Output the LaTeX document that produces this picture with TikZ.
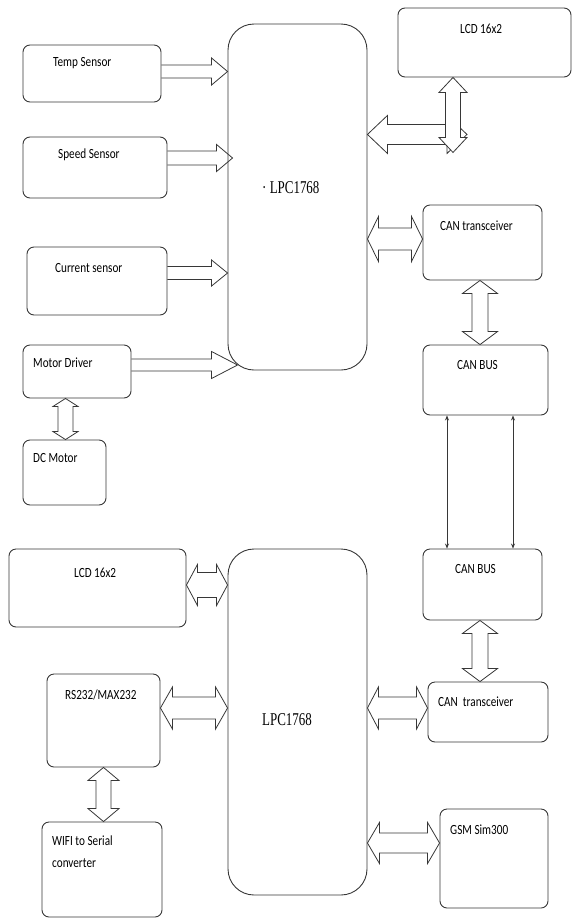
\documentclass[tikz,border=0pt]{standalone}
\usepackage{fontspec}
\setmainfont{Carlito}
\newfontfamily\boxfont[FakeStretch=0.8]{Carlito}
\newfontfamily\chipfont[FakeStretch=0.72]{Liberation Serif}
\usepackage{tikz}
\usetikzlibrary{calc,arrows.meta}
\definecolor{lineGray}{RGB}{55,55,55}

\tikzset{
  box/.style={draw=lineGray, line width=0.9pt, rounded corners=7pt},
  chip/.style={draw=lineGray, line width=0.9pt, rounded corners=26pt},
  lbl/.style={inner sep=0pt, anchor=west, font=\boxfont\fontsize{14}{16}\selectfont},
  chiplbl/.style={inner sep=0pt, anchor=west, font=\chipfont\fontsize{18}{20}\selectfont},
  blockarrow/.style={draw=lineGray, line width=0.8pt, line join=miter},
  busline/.style={draw=lineGray, line width=0.7pt, >={Stealth[length=5pt,width=4pt]}, <->}
}

% hollow arrow, head at #2
\newcommand{\fatarrow}[5]{%
  \draw[blockarrow] ($(#1)!#3pt!90:(#2)$) -- ($(#2)!#5pt!(#1)!#3pt!-90:(#1)$)
    -- ($(#2)!#5pt!(#1)!#4pt!-90:(#1)$) -- (#2) -- ($(#2)!#5pt!(#1)!#4pt!90:(#1)$)
    -- ($(#2)!#5pt!(#1)!#3pt!90:(#1)$) -- ($(#1)!#3pt!-90:(#2)$);}
% hollow arrow, heads at both ends
\newcommand{\dblarrow}[6][]{%
  \draw[blockarrow,#1] (#2) -- ($(#2)!#6pt!(#3)!#5pt!90:(#3)$) -- ($(#2)!#6pt!(#3)!#4pt!90:(#3)$)
    -- ($(#3)!#6pt!(#2)!#4pt!-90:(#2)$) -- ($(#3)!#6pt!(#2)!#5pt!-90:(#2)$) -- (#3)
    -- ($(#3)!#6pt!(#2)!#5pt!90:(#2)$) -- ($(#3)!#6pt!(#2)!#4pt!90:(#2)$)
    -- ($(#2)!#6pt!(#3)!#4pt!-90:(#3)$) -- ($(#2)!#6pt!(#3)!#5pt!-90:(#3)$) -- cycle;}

\begin{document}
\begin{tikzpicture}[x=1pt, y=-1pt]
    \useasboundingbox (0,0) rectangle (572,919);

    % Upper board
    \node[chip, minimum width=139pt, minimum height=346pt] (lpcA) at (297.5,197) {};
    \node[chiplbl] (lpcAL) at (262,188) {· LPC1768};

    \node[box, minimum width=138pt, minimum height=57pt] (temp) at (92,73.5) {};
    \node[lbl] (tempL) at (53,63) {Temp Sensor};
    \node[box, minimum width=144pt, minimum height=61pt] (speed) at (95,167.5) {};
    \node[lbl] (speedL) at (58,155) {Speed Sensor};
    \node[box, minimum width=140pt, minimum height=68pt] (current) at (97,281) {};
    \node[lbl] (currentL) at (55,268) {Current sensor};
    \node[box, minimum width=108pt, minimum height=53pt] (motor) at (77,371.5) {};
    \node[lbl] (motorL) at (33,363) {Motor Driver};
    \node[box, minimum width=83pt, minimum height=65pt] (dc) at (64.5,472.5) {};
    \node[lbl] (dcL) at (33,458) {DC Motor};

    \node[box, minimum width=173pt, minimum height=69pt] (lcdA) at (484.5,42.5) {};
    \node[lbl] (lcdAL) at (460,29) {LCD 16x2};
    \node[box, minimum width=119pt, minimum height=75pt] (canA) at (482.5,242.5) {};
    \node[lbl] (canAL) at (440,226) {CAN transceiver};
    \node[box, minimum width=125pt, minimum height=70pt] (busA) at (485.5,380) {};
    \node[lbl] (busAL) at (457,365) {CAN BUS};

    % Lower board
    \node[chip, minimum width=139pt, minimum height=346pt] (lpcB) at (297.5,722) {};
    \node[chiplbl] (lpcBL) at (262,720) {LPC1768};

    \node[box, minimum width=177pt, minimum height=78pt] (lcdB) at (97.5,588) {};
    \node[lbl] (lcdBL) at (74,573) {LCD 16x2};
    \node[box, minimum width=113pt, minimum height=93pt] (rs) at (103.5,720.5) {};
    \node[lbl] (rsL) at (65,695) {RS232/MAX232};
    \node[box, minimum width=120pt, minimum height=95pt] (wifi) at (102,869.5) {};
    \node[lbl, anchor=north west, align=left, font=\boxfont\fontsize{14}{22}\selectfont] (wifiL) at (52,836) {WIFI to Serial\\converter};

    \node[box, minimum width=119pt, minimum height=71pt] (busB) at (482.5,584.5) {};
    \node[lbl] (busBL) at (455,569) {CAN BUS};
    \node[box, minimum width=120pt, minimum height=60pt] (canB) at (488,712) {};
    \node[lbl] (canBL) at (438,702) {CAN\ \ transceiver};
    \node[box, minimum width=108pt, minimum height=99pt] (gsm) at (494,858.5) {};
    \node[lbl] (gsmL) at (450,830) {GSM Sim300};

    % Sensor inputs
    \coordinate (s1) at ([yshift=2pt]temp.east);
    \coordinate (e1) at (s1 -| lpcA.west);
    \fatarrow{s1}{e1}{6.5}{13.5}{16}
    \coordinate (s2) at ([yshift=9.5pt]speed.east);
    \coordinate (e2) at ($(s2 -| lpcA.west)+(5,0)$);
    \fatarrow{s2}{e2}{7}{13.5}{16}
    \coordinate (s3) at ([yshift=8pt]current.east);
    \coordinate (e3) at (s3 -| lpcA.west);
    \fatarrow{s3}{e3}{6.5}{13}{16}
    \coordinate (s4) at ([yshift=6.5pt]motor.east);
    \coordinate (e4) at ($(s4 -| lpcA.west)+(10,0)$);
    \fatarrow{s4}{e4}{6}{13.5}{26}

    \coordinate (m1) at ([xshift=-11.5pt]motor.south);
    \coordinate (m2) at (m1 |- dc.north);
    \dblarrow{m1}{m2}{7.5}{12.5}{8}

    % LCD link
    \coordinate (v1) at ([xshift=-31.5pt]lcdA.south);
    \coordinate (v2) at ($(v1)+(0,75)$);
    \coordinate (h2) at ($(v2)+(14,-18)$);
    \coordinate (h1) at (h2 -| lpcA.east);
    \dblarrow{h1}{h2}{10}{19}{20}
    \dblarrow[fill=white]{v1}{v2}{7.5}{14}{15}

    % CAN side, upper
    \coordinate (c1) at ([yshift=3.5pt]canA.west);
    \coordinate (c0) at (c1 -| lpcA.east);
    \dblarrow{c0}{c1}{11}{22.5}{11}
    \coordinate (c2) at ([xshift=-2.5pt]canA.south);
    \coordinate (c3) at (c2 |- busA.north);
    \dblarrow{c2}{c3}{8}{17.5}{13}

    % bus wires
    \coordinate (b1) at ([xshift=-38.5pt]busA.south);
    \coordinate (b2) at (b1 |- busB.north);
    \draw[busline] (b1) -- (b2);
    \coordinate (b3) at ([xshift=27.5pt]busA.south);
    \coordinate (b4) at (b3 |- busB.north);
    \draw[busline] (b3) -- (b4);

    % CAN side, lower
    \coordinate (c4) at ([xshift=-2.5pt]busB.south);
    \coordinate (c5) at (c4 |- canB.north);
    \dblarrow{c4}{c5}{8}{17.5}{13}
    \coordinate (c6) at ([yshift=4pt]canB.west);
    \coordinate (c7) at (c6 -| lpcB.east);
    \dblarrow{c7}{c6}{11}{21}{11}
    \coordinate (g1) at ([yshift=15.5pt]gsm.west);
    \coordinate (g0) at (g1 -| lpcB.east);
    \dblarrow{g0}{g1}{10}{20.5}{12}

    % left side, lower
    \coordinate (l1) at ([yshift=3pt]lcdB.east);
    \coordinate (l2) at (l1 -| lpcB.west);
    \dblarrow{l1}{l2}{12.5}{20.5}{11}
    \coordinate (r1) at ([yshift=12.5pt]rs.east);
    \coordinate (r2) at (r1 -| lpcB.west);
    \dblarrow{r1}{r2}{11}{21}{12}
    \coordinate (w1) at (rs.south);
    \coordinate (w2) at (w1 |- wifi.north);
    \dblarrow{w1}{w2}{7.5}{15.5}{13}

\end{tikzpicture}
\end{document}
